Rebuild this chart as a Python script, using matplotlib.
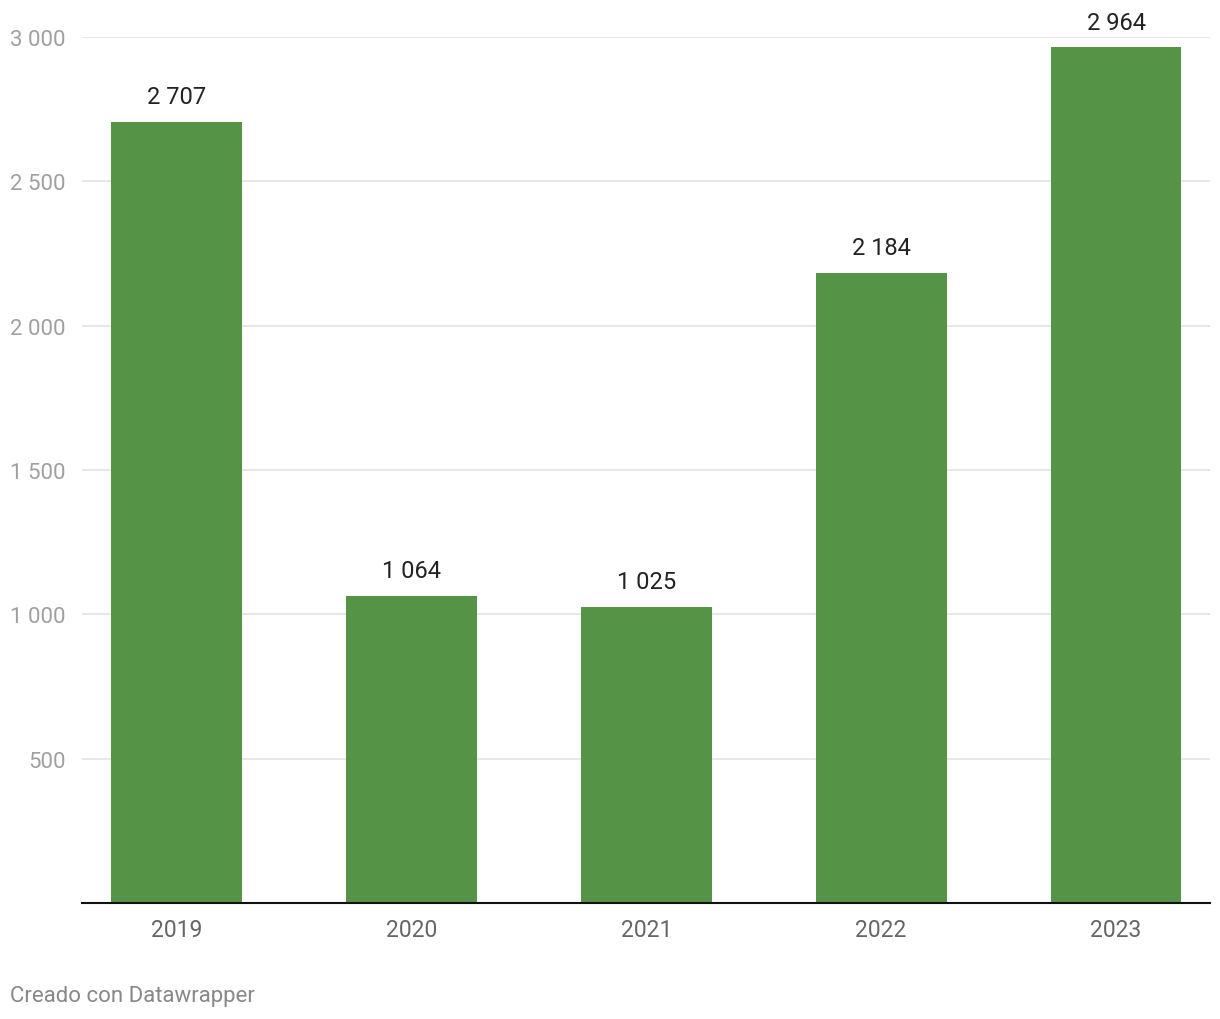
import matplotlib.pyplot as plt

years = ["2019", "2020", "2021", "2022", "2023"]
values = [2707, 1064, 1025, 2184, 2964]
yticks = [500, 1000, 1500, 2000, 2500, 3000]

barColor = "#559446"

def fmt(v):
    return "{:,}".format(v).replace(",", " ")

plt.rcParams["font.family"] = ["Roboto", "DejaVu Sans"]

fig = plt.figure(figsize=(12.2, 10.2), dpi=100)
ax = fig.add_axes([82/1220, 1-904/1020, 1128/1220, 866/1020])

x = list(range(len(years)))
ax.bar(x, values, width=0.557, color=barColor, zorder=2)
for xi, v in zip(x, values):
    ax.annotate(fmt(v), (xi, v), xytext=(0, 10), textcoords="offset points",
                ha="center", va="bottom", fontsize=17, color="#222222",
                annotation_clip=False)

ax.set_xlim(-0.402, 4.4)
ax.set_ylim(0, 3000)
ax.set_yticks(yticks)
ax.set_yticklabels([fmt(t) for t in yticks])
ax.set_xticks(x)
ax.set_xticklabels(years)
ax.grid(axis="y", color="#e3e3e3", linewidth=1.2, zorder=0)
ax.tick_params(axis="y", length=0, pad=12, labelsize=16, labelcolor="#a0a0a0")
ax.tick_params(axis="x", length=0, pad=11, labelsize=16.5, labelcolor="#666666")
for s in ["top", "right", "left"]:
    ax.spines[s].set_visible(False)
ax.spines["bottom"].set_color("#111111")
ax.spines["bottom"].set_linewidth(1.5)
ax.spines["bottom"].set_zorder(3)

fig.text(10/1220, 1-997/1020, "Creado con Datawrapper", fontsize=16,
         color="#888888", ha="left", va="center")

plt.savefig("out.png")
